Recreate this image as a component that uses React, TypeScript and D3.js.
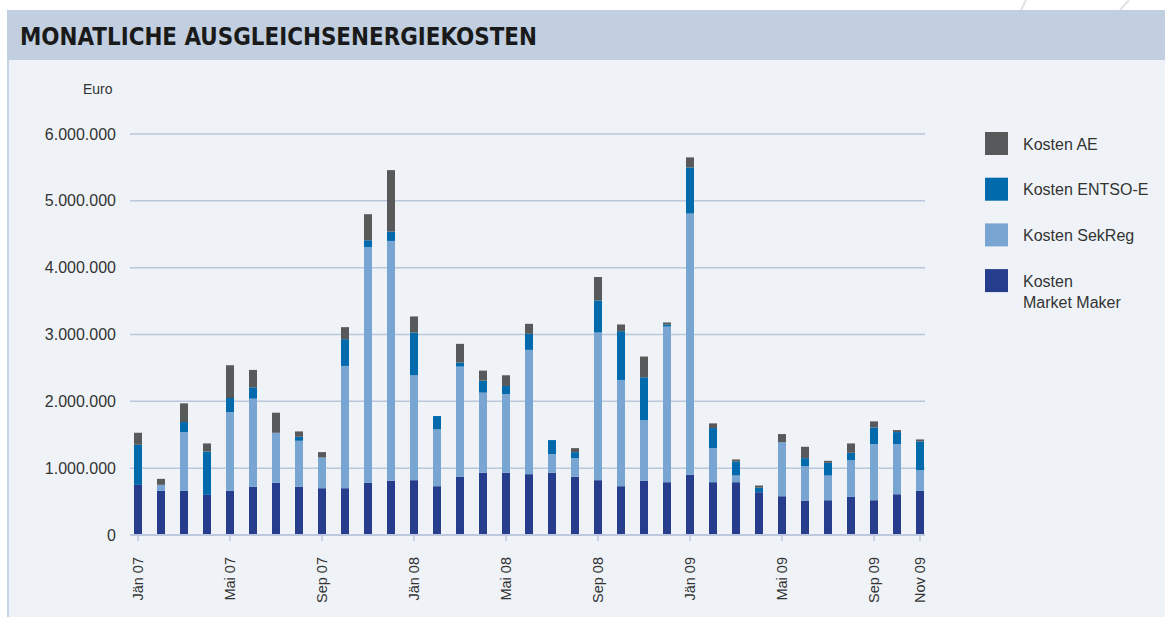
import React from 'react';
import * as d3 from 'd3';

// months Jän 07 .. Nov 09
const months = [
  'Jän 07', 'Feb 07', 'Mär 07', 'Apr 07', 'Mai 07', 'Jun 07', 'Jul 07', 'Aug 07', 'Sep 07', 'Okt 07', 'Nov 07', 'Dez 07',
  'Jän 08', 'Feb 08', 'Mär 08', 'Apr 08', 'Mai 08', 'Jun 08', 'Jul 08', 'Aug 08', 'Sep 08', 'Okt 08', 'Nov 08', 'Dez 08',
  'Jän 09', 'Feb 09', 'Mär 09', 'Apr 09', 'Mai 09', 'Jun 09', 'Jul 09', 'Aug 09', 'Sep 09', 'Okt 09', 'Nov 09',
];
const tickMonths = ['Jän 07', 'Mai 07', 'Sep 07', 'Jän 08', 'Mai 08', 'Sep 08', 'Jän 09', 'Mai 09', 'Sep 09', 'Nov 09'];
const yTicks = [0, 1000000, 2000000, 3000000, 4000000, 5000000, 6000000];

// Euro per month
const marketMaker = [
  750000, 660000, 660000, 600000, 660000, 720000, 780000, 720000, 700000, 700000, 780000, 810000,
  820000, 730000, 870000, 930000, 930000, 910000, 930000, 870000, 820000, 730000, 810000, 790000,
  900000, 790000, 790000, 640000, 580000, 510000, 520000, 570000, 520000, 610000, 660000,
];
const sekReg = [
  0, 90000, 880000, 0, 1180000, 1320000, 750000, 690000, 460000, 1830000, 3530000, 3590000,
  1570000, 850000, 1650000, 1200000, 1180000, 1860000, 280000, 280000, 2210000, 1590000, 910000, 2330000,
  3910000, 510000, 100000, 0, 810000, 520000, 370000, 550000, 840000, 750000, 310000,
];
const entsoE = [
  600000, 0, 150000, 650000, 210000, 170000, 0, 60000, 0, 400000, 100000, 140000,
  640000, 200000, 60000, 180000, 120000, 240000, 210000, 90000, 480000, 730000, 640000, 30000,
  690000, 300000, 210000, 70000, 0, 120000, 190000, 110000, 250000, 180000, 430000,
];
const kostenAE = [
  180000, 90000, 280000, 120000, 490000, 260000, 300000, 80000, 80000, 180000, 390000, 920000,
  240000, 0, 280000, 150000, 160000, 150000, 0, 60000, 350000, 100000, 310000, 30000,
  150000, 70000, 30000, 30000, 120000, 170000, 30000, 140000, 90000, 30000, 30000,
];

const seriesKeys = ['mm', 'sr', 'entso', 'ae'];
const colors: Record<string, string> = {
  mm: '#263c8d',
  sr: '#78a5d1',
  entso: '#006aac',
  ae: '#58595b',
};
const legendItems = [
  { key: 'ae', lines: ['Kosten AE'] },
  { key: 'entso', lines: ['Kosten ENTSO-E'] },
  { key: 'sr', lines: ['Kosten SekReg'] },
  { key: 'mm', lines: ['Kosten', 'Market Maker'] },
];

const de = d3.formatLocale({ decimal: ',', thousands: '.', grouping: [3], currency: ['', ' €'] });
const fmt = de.format(',');

export default function App() {
  const W = 1165, H = 617;
  const x0 = 130, x1 = 925, yBase = 535, yTop = 134;

  const table = months.map((m, i) => ({
    month: m, mm: marketMaker[i], sr: sekReg[i], entso: entsoE[i], ae: kostenAE[i],
  }));
  const stacked = d3.stack<any>().keys(seriesKeys)(table);

  const x = d3.scalePoint<string>().domain(months).range([138, 920]);
  const y = d3.scaleLinear().domain([0, 6000000]).range([yBase, yTop]);
  const bw = 8;
  const font = '"Liberation Sans", Arial, sans-serif';

  return (
    <svg width={W} height={H} style={{ position: 'absolute', left: 0, top: 0, background: '#fff' }}>
      {/* decorative lines top right */}
      <line x1={1026} y1={0} x2={1021} y2={10} stroke="#e2e2e2" strokeWidth={2} />
      <line x1={1129} y1={0} x2={1120} y2={10} stroke="#e2e2e2" strokeWidth={2} />
      {/* header band */}
      <rect x={7} y={10} width={W - 7} height={50} fill="#c1cfe0" />
      <text x={20} y={45} fontFamily='"Liberation Sans Narrow", "DejaVu Sans Condensed", Arial, sans-serif'
        fontWeight="bold" fontSize={25} fill="#1a1a1a" textLength={517} lengthAdjust="spacingAndGlyphs">
        MONATLICHE AUSGLEICHSENERGIEKOSTEN
      </text>
      {/* panel */}
      <rect x={7} y={60} width={W - 7} height={H - 60} fill="#eff3f8" />
      <line x1={8} y1={60} x2={8} y2={H} stroke="#c9d5e6" strokeWidth={2} />

      <text x={83} y={94} fontFamily={font} fontSize={14} fill="#333">Euro</text>

      {/* gridlines */}
      {yTicks.filter(t => t > 0).map(t => (
        <line key={t} x1={x0} x2={x1} y1={y(t)} y2={y(t)} stroke="#bac6da" strokeWidth={1.5} />
      ))}
      {yTicks.map(t => (
        <text key={'l' + t} x={116} y={y(t)} dy="0.35em" textAnchor="end" fontFamily={font}
          fontSize={16} fill="#333">{fmt(t)}</text>
      ))}

      {/* bars */}
      {stacked.map(s => (
        <g key={s.key} fill={colors[s.key]}>
          {s.map((d, i) => (
            d[1] - d[0] > 0 ? (
              <rect key={i} x={(x(months[i]) as number) - bw / 2} y={y(d[1])} width={bw}
                height={y(d[0]) - y(d[1])} />
            ) : null
          ))}
        </g>
      ))}

      {/* x axis */}
      <line x1={x0} x2={x1} y1={yBase} y2={yBase} stroke="#bcc8dc" strokeWidth={2} />
      {tickMonths.map(m => {
        const tx = x(m) as number;
        return (
          <g key={m}>
            <line x1={tx} x2={tx} y1={yBase} y2={yBase + 6} stroke="#bcc8dc" strokeWidth={1.5} />
            <text transform={`translate(${tx},557) rotate(-90)`} textAnchor="end" dy="0.35em"
              fontFamily={font} fontSize={14.5} fill="#333">{m}</text>
          </g>
        );
      })}

      {/* legend */}
      {legendItems.map((it, i) => {
        const ly = 132 + i * 45.7;
        return (
          <g key={it.key}>
            <rect x={985} y={ly} width={23} height={23} fill={colors[it.key]} />
            {it.lines.map((ln, j) => (
              <text key={j} x={1023} y={ly + 12 + j * 21} dy="0.35em" fontFamily={font}
                fontSize={16} fill="#333">{ln}</text>
            ))}
          </g>
        );
      })}
    </svg>
  );
}
